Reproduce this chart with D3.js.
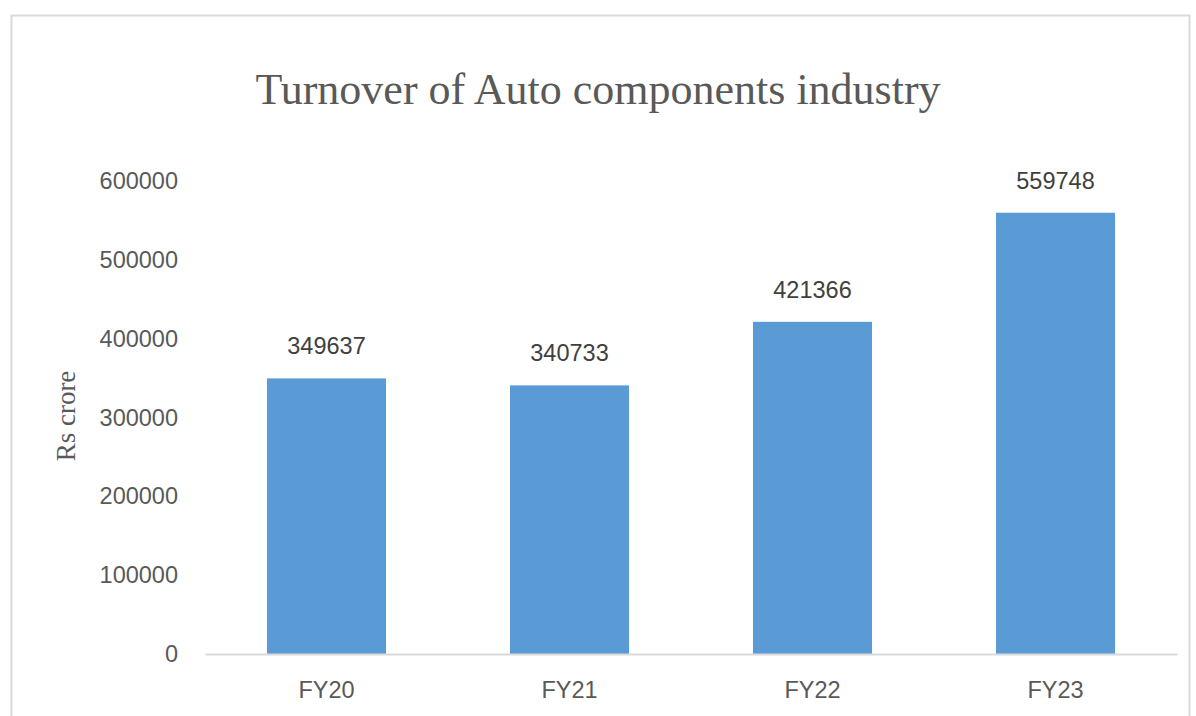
<!DOCTYPE html>
<html lang="en">
<head>
<meta charset="UTF-8">
<title>Turnover of Auto components industry</title>
<script src="https://d3js.org/d3.v7.min.js"></script>
<style>
  body { margin: 0; background: #fff; }
</style>
</head>
<body>
<script>
// chart data
var years = ["FY20", "FY21", "FY22", "FY23"];
var turnover = [349637, 340733, 421366, 559748];
var yTicks = [0, 100000, 200000, 300000, 400000, 500000, 600000];

var W = 1196, H = 716;
var svg = d3.select("body").append("svg")
    .attr("width", W)
    .attr("height", H);

// chart area border
svg.append("rect")
    .attr("x", 11.5).attr("y", 15.5)
    .attr("width", 1178).attr("height", 720)
    .style("fill", "#fff")
    .style("stroke", "#d9d9d9")
    .style("stroke-width", 2);

var x = d3.scaleBand()
    .domain(years)
    .range([205, 1177])
    .paddingInner(0.51)
    .paddingOuter(0.255);

var y = d3.scaleLinear()
    .domain([0, 600000])
    .range([654, 181]);

var textCol = "#595959";
var sans = "'Liberation Sans', Arial, sans-serif";
var serif = "'Liberation Serif', 'Times New Roman', serif";

// title
svg.append("text")
    .attr("x", 598).attr("y", 104)
    .attr("text-anchor", "middle")
    .style("font-family", serif)
    .style("font-size", "44px")
    .style("fill", textCol)
    .text("Turnover of Auto components industry");

// y axis (labels only)
var yAxis = svg.append("g")
    .attr("transform", "translate(178,0)")
    .call(d3.axisLeft(y).tickValues(yTicks).tickSize(0).tickPadding(0).tickFormat(d3.format("d")));
yAxis.select(".domain").remove();
yAxis.selectAll("text")
    .style("font-family", sans)
    .style("font-size", "23.5px")
    .style("fill", textCol);

// y axis title
svg.append("text")
    .attr("transform", "translate(75,416) rotate(-90)")
    .attr("text-anchor", "middle")
    .style("font-family", serif)
    .style("font-size", "27px")
    .style("fill", textCol)
    .text("Rs crore");

// bars
svg.selectAll("rect.bar")
    .data(turnover)
    .enter().append("rect")
    .attr("class", "bar")
    .attr("x", function(d, i) { return x(years[i]); })
    .attr("width", x.bandwidth())
    .attr("y", function(d) { return y(d); })
    .attr("height", function(d) { return y(0) - y(d); })
    .style("fill", "#5b9bd5");

// value labels
svg.selectAll("text.val")
    .data(turnover)
    .enter().append("text")
    .attr("class", "val")
    .attr("x", function(d, i) { return x(years[i]) + x.bandwidth() / 2; })
    .attr("y", function(d) { return y(d) - 24; })
    .attr("text-anchor", "middle")
    .style("font-family", sans)
    .style("font-size", "23.5px")
    .style("fill", "#404040")
    .text(function(d) { return d; });

// x axis
var xAxis = svg.append("g")
    .attr("transform", "translate(0," + y(0) + ")")
    .call(d3.axisBottom(x).tickSize(0).tickPadding(27));
xAxis.select(".domain")
    .style("stroke", "#d9d9d9")
    .style("stroke-width", 2);
xAxis.selectAll("text")
    .style("font-family", sans)
    .style("font-size", "23.5px")
    .style("fill", textCol);
</script>
</body>
</html>
